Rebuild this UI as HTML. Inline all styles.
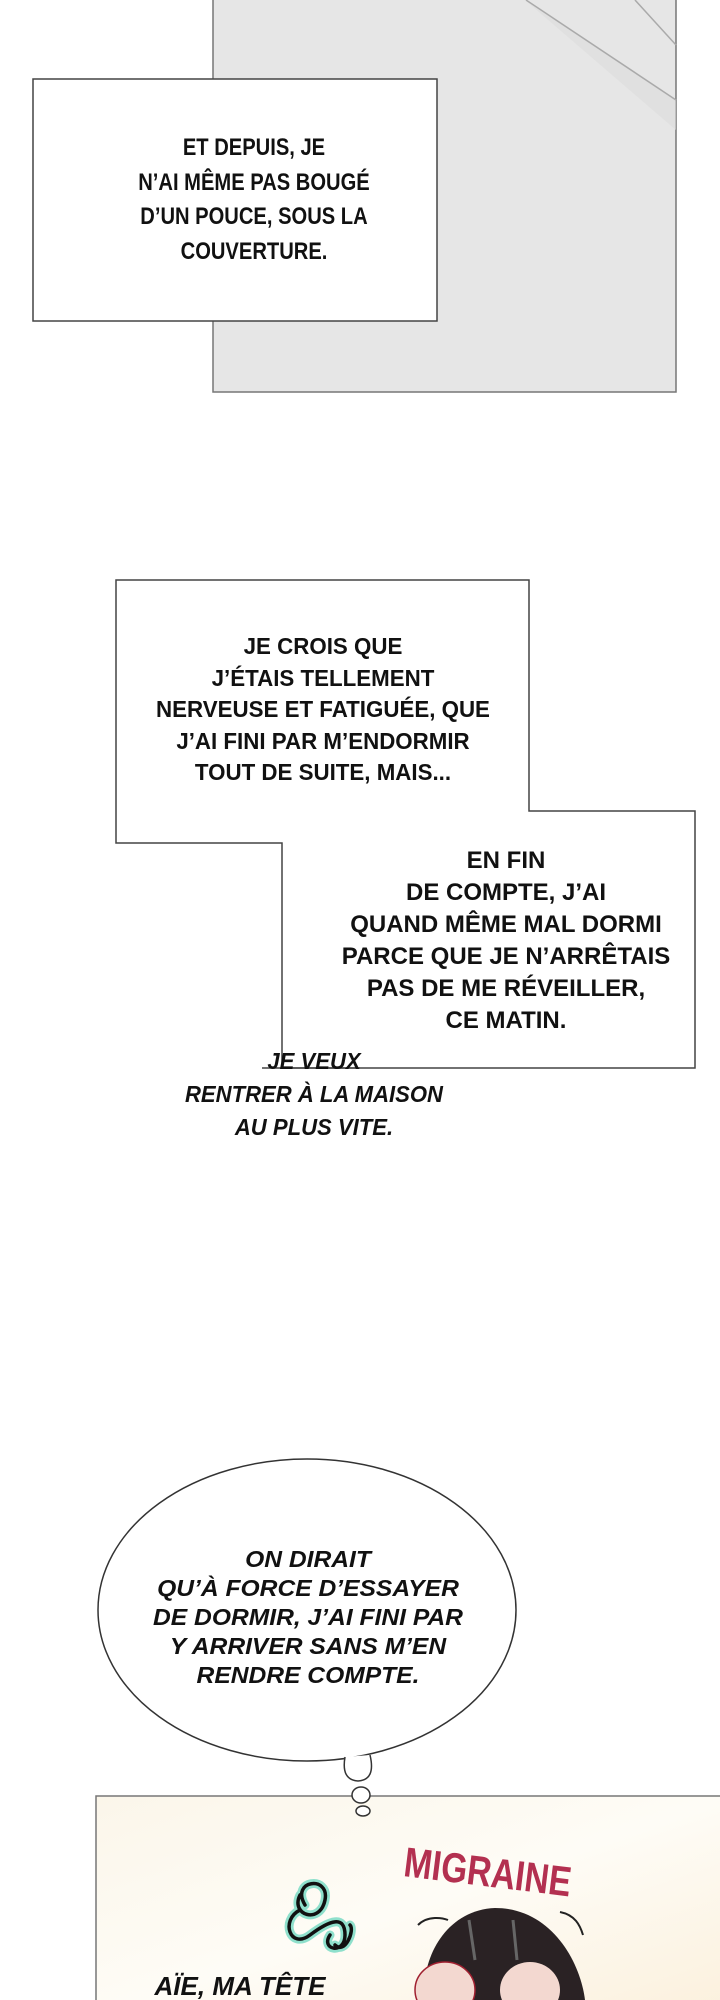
<!DOCTYPE html>
<html><head><meta charset="utf-8"><style>
html,body{margin:0;padding:0;background:#fff;}
#c{position:relative;width:720px;height:2000px;overflow:hidden;background:#fff;}
svg{position:absolute;left:0;top:0;}
.t{position:absolute;text-align:center;font-family:"Liberation Sans",sans-serif;font-weight:bold;color:#111;white-space:nowrap;transform-origin:center top;}
.box{font-size:23px;line-height:32px;}
.it{font-style:italic;font-size:21px;line-height:28px;}
</style></head><body><div id="c">
<svg width="720" height="2000" viewBox="0 0 720 2000">
<defs>
<linearGradient id="cream" x1="0" y1="0" x2="1" y2="1">
<stop offset="0" stop-color="#fbf6ea"/><stop offset="0.5" stop-color="#fefcf6"/><stop offset="1" stop-color="#fbf0dc"/>
</linearGradient>
</defs>
<rect x="213" y="-2" width="463" height="394" fill="#e6e6e6" stroke="#777" stroke-width="1.5"/>
<path d="M525 0 L676 100 L676 130 Z" fill="#dcdcdc" opacity="0.6"/>
<line x1="526" y1="0" x2="676" y2="100" stroke="#aaa" stroke-width="1.5"/>
<line x1="635" y1="0" x2="676" y2="45" stroke="#aaa" stroke-width="1.5"/>
<rect x="33" y="79" width="404" height="242" fill="#fff" stroke="#444" stroke-width="1.5"/>
<path d="M116 580 L529 580 L529 811 L695 811 L695 1068 L282 1068 L282 843 L116 843 Z" fill="#fff" stroke="#444" stroke-width="1.5"/>
<ellipse cx="307" cy="1610" rx="209" ry="151" fill="#fff" stroke="#333" stroke-width="1.5"/>
<path d="M345 1757 Q341 1780 358 1781 Q376 1780 370 1755" fill="#fff" stroke="#333" stroke-width="1.5"/>
<rect x="96" y="1796" width="640" height="220" fill="url(#cream)" stroke="#777" stroke-width="1.5"/>
<ellipse cx="361" cy="1795" rx="9" ry="8" fill="#fff" stroke="#333" stroke-width="1.5"/>
<ellipse cx="363" cy="1811" rx="7" ry="5" fill="#fff" stroke="#333" stroke-width="1.5"/>
<g fill="none" stroke-linecap="round">
<path d="M305 1905 C290 1880 330 1875 325 1900 C320 1925 290 1915 300 1895 M300 1910 C280 1920 290 1950 310 1935 C330 1920 345 1915 345 1935 C345 1955 320 1950 330 1935 M335 1945 C345 1955 355 1930 350 1925" stroke="#8fe0cc" stroke-width="9"/>
<path d="M305 1905 C290 1880 330 1875 325 1900 C320 1925 290 1915 300 1895 M300 1910 C280 1920 290 1950 310 1935 C330 1920 345 1915 345 1935 C345 1955 320 1950 330 1935 M335 1945 C345 1955 355 1930 350 1925" stroke="#111" stroke-width="3.5"/>
</g>
<path d="M425 2000 C420 1960 445 1910 495 1908 C550 1908 580 1960 585 2000 Z" fill="#2a2224"/>
<path d="M418 1925 C428 1915 443 1918 448 1920 M560 1912 C575 1915 580 1925 583 1935" stroke="#222" stroke-width="2" fill="none"/>
<ellipse cx="445" cy="1990" rx="30" ry="28" fill="#f3d8d0" stroke="#a02030" stroke-width="1.5"/>
<ellipse cx="530" cy="1990" rx="30" ry="28" fill="#f3d8d0"/>
<line x1="469" y1="1920" x2="475" y2="1960" stroke="#666" stroke-width="3"/>
<line x1="513" y1="1920" x2="517" y2="1960" stroke="#666" stroke-width="3"/>
<text x="404" y="1886" font-family="Liberation Sans,sans-serif" font-weight="bold" font-size="42" fill="#b33050" transform="rotate(7 485 1870)" textLength="168" lengthAdjust="spacingAndGlyphs">MIGRAINE</text>
<line x1="262" y1="1068" x2="360" y2="1068" stroke="#444" stroke-width="1.5"/>
</svg>
<div class="t box" style="left:84px;width:340px;top:131px;font-size:24px;line-height:34.5px;transform:scaleX(0.84);">ET DEPUIS, JE<br>N’AI MÊME PAS BOUGÉ<br>D’UN POUCE, SOUS LA<br>COUVERTURE.</div>
<div class="t box" style="left:123px;width:400px;top:631px;line-height:31.6px;transform:scaleX(0.97);">JE CROIS QUE<br>J’ÉTAIS TELLEMENT<br>NERVEUSE ET FATIGUÉE, QUE<br>J’AI FINI PAR M’ENDORMIR<br>TOUT DE SUITE, MAIS...</div>
<div class="t box" style="left:306px;width:400px;top:845px;font-size:24px;transform:scaleX(1.0);">EN FIN<br>DE COMPTE, J’AI<br>QUAND MÊME MAL DORMI<br>PARCE QUE JE N’ARRÊTAIS<br>PAS DE ME RÉVEILLER,<br>CE MATIN.</div>
<div class="t it" style="left:164px;width:300px;top:1045px;line-height:33px;font-size:23px;transform:scaleX(0.96);">JE VEUX<br>RENTRER À LA MAISON<br>AU PLUS VITE.</div>
<div class="t it" style="left:128px;width:360px;top:1545px;font-size:23px;line-height:29px;transform:scaleX(1.07);">ON DIRAIT<br>QU’À FORCE D’ESSAYER<br>DE DORMIR, J’AI FINI PAR<br>Y ARRIVER SANS M’EN<br>RENDRE COMPTE.</div>
<div class="t it" style="left:130px;width:220px;top:1972px;font-size:26px;">AÏE, MA TÊTE</div>
</div></body></html>
